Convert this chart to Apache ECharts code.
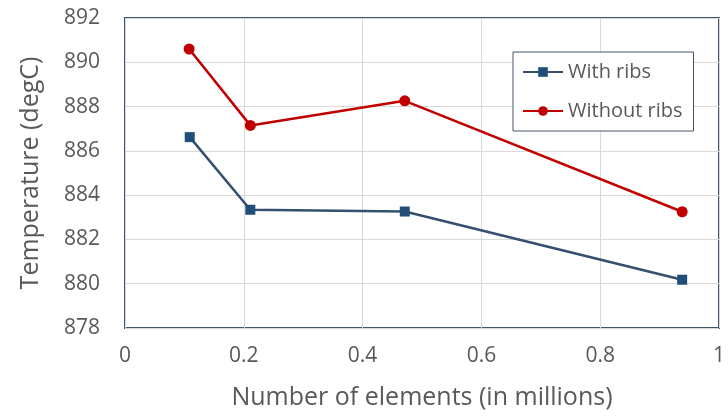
<!DOCTYPE html>
<html>
<head>
<meta charset="utf-8">
<script src="https://cdn.jsdelivr.net/npm/echarts@6/dist/echarts.min.js"></script>
<style>html,body{margin:0;padding:0;background:#fff}#c{width:728px;height:416px}</style>
</head>
<body>
<div id="c"></div>
<script>
const xWithRibs = [0.109, 0.211, 0.471, 0.938];
const yWithRibs = [886.62, 883.34, 883.26, 880.18];
const xWithoutRibs = [0.108, 0.211, 0.471, 0.938];
const yWithoutRibs = [890.6, 887.15, 888.26, 883.25];
const seriesNames = ['With ribs', 'Without ribs'];
const xTitle = 'Number of elements (in millions)';
const yTitle = 'Temperature (degC)';

const font = '"Open Sans", "Liberation Sans", sans-serif';
const chart = echarts.init(document.getElementById('c'), null, {renderer: 'canvas'});
chart.setOption({
  animation: false,
  grid: {left: 125, right: 7, top: 18, bottom: 88, show: true, borderColor: '#3e5670', borderWidth: 2, backgroundColor: 'transparent'},
  xAxis: {
    type: 'value', min: 0, max: 1, interval: 0.2,
    name: xTitle, nameLocation: 'middle', nameGap: 57,
    nameTextStyle: {fontFamily: font, fontSize: 25, color: '#595959'},
    axisLine: {show: false}, axisTick: {show: false},
    axisLabel: {margin: 18, fontFamily: font, fontSize: 21, color: '#595959'},
    splitLine: {show: true, lineStyle: {color: '#d9d9d9', width: 1}}
  },
  yAxis: {
    type: 'value', min: 878, max: 892, interval: 2,
    name: yTitle, nameLocation: 'middle', nameGap: 82,
    nameTextStyle: {fontFamily: font, fontSize: 25, color: '#595959'},
    axisLine: {show: false}, axisTick: {show: false},
    axisLabel: {margin: 25, fontFamily: font, fontSize: 21, color: '#595959'},
    splitLine: {show: true, lineStyle: {color: '#d9d9d9', width: 1}}
  },
  legend: {
    left: 513, top: 52, orient: 'vertical',
    padding: [10, 11, 10, 9], itemGap: 19,
    itemWidth: 40, itemHeight: 12,
    borderColor: '#44546a', borderWidth: 1, backgroundColor: '#fff',
    textStyle: {fontFamily: font, fontSize: 20, color: '#595959', lineHeight: 20},
    data: seriesNames
  },
  series: [
    {
      name: seriesNames[0], type: 'line',
      data: xWithRibs.map((x, i) => [x, yWithRibs[i]]),
      symbol: 'rect', symbolSize: 10,
      lineStyle: {color: '#34506e', width: 2.5},
      itemStyle: {color: '#1f4e79'}
    },
    {
      name: seriesNames[1], type: 'line',
      data: xWithoutRibs.map((x, i) => [x, yWithoutRibs[i]]),
      symbol: 'circle', symbolSize: 11,
      lineStyle: {color: '#c00000', width: 2.5},
      itemStyle: {color: '#c00000'}
    }
  ]
});
</script>
</body>
</html>
